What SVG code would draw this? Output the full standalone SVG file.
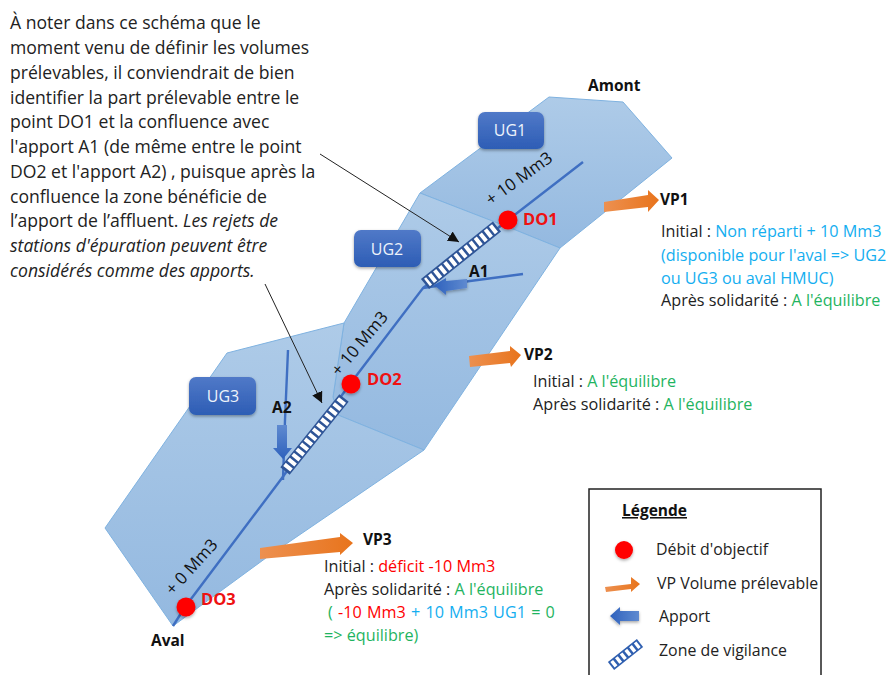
<svg xmlns="http://www.w3.org/2000/svg" width="890" height="675" viewBox="0 0 890 675">
<style>
text{font-family:"Open Sans","Noto Sans","Liberation Sans",sans-serif;font-size:16.200px;fill:#222}
.b{font-weight:700;fill:#111;font-size:15.500px}
.red{fill:#ff0000}.g{fill:#1fb45f}.c{fill:#14aef0}
.big{font-size:17.600px}
.do{font-weight:700;fill:#ee1111;font-size:16.500px}
.ug{font-size:16px;fill:#eef3fb;text-anchor:middle}
.rot{font-size:16.800px;fill:#111}
.leg{font-size:15.900px}
.zone{fill:url(#za);stroke:#7fb2e0;stroke-width:1}
.riv{fill:none;stroke:#3f6fc2;stroke-width:2.400}
.call{stroke:#222;stroke-width:1;fill:none;marker-end:url(#ah)}
</style>
<defs>
<linearGradient id="za" x1="0" y1="0" x2="0" y2="1"><stop offset="0" stop-color="#aecbe8"/><stop offset="1" stop-color="#94b9e0"/></linearGradient>
<linearGradient id="ub" x1="0" y1="0" x2="0" y2="1"><stop offset="0" stop-color="#5079c8"/><stop offset="1" stop-color="#2d5db5"/></linearGradient>
<linearGradient id="or" x1="0" y1="0" x2="1" y2="0"><stop offset="0" stop-color="#ed9050"/><stop offset="1" stop-color="#e8741c"/></linearGradient>
<linearGradient id="bl" x1="0" y1="0" x2="1" y2="0"><stop offset="0" stop-color="#2f62bd"/><stop offset="1" stop-color="#5f8ad0"/></linearGradient>
<linearGradient id="bv" x1="0" y1="0" x2="0" y2="1"><stop offset="0" stop-color="#5f8ad0"/><stop offset="1" stop-color="#2f62bd"/></linearGradient>
<filter id="sh" x="-20%" y="-20%" width="140%" height="150%"><feDropShadow dx="0" dy="1.500" stdDeviation="1.500" flood-color="#000" flood-opacity=".35"/></filter>
<marker id="ah" markerUnits="userSpaceOnUse" markerWidth="12" markerHeight="12" refX="11" refY="5.500" orient="auto"><path d="M0,0L11,5.500L0,11Z" fill="#111"/></marker>
</defs>

<g id="zones">
<polygon id="zone-ug1" class="zone" points="549,97 623,102 672,158 560,248 513,229 420,193"/>
<polygon id="zone-ug2" class="zone" points="420,193 513,229 560,248 424,450 338,415 333,397 344,323"/>
<polygon id="zone-ug3" class="zone" points="227,353 344,323 333,397 338,415 424,450 270,555 173,626 105,528"/>
</g>

<g id="connectors">
<polyline class="riv" points="583,162 508,220 423,288 350,384 282,478 185,607 173,626"/>
<polyline class="riv" points="523,274 470,281 423,288"/>
<polyline class="riv" points="288,350 285,420 283,480"/>
<line class="call" x1="320" y1="154" x2="459" y2="242"/>
<line class="call" x1="265" y1="284" x2="322" y2="403"/>
</g>

<g id="zone-vigilance-1"><line x1="497" y1="226.500" x2="425" y2="284" stroke="#2f5597" stroke-width="13"/><line x1="495" y1="228" x2="427" y2="282.500" stroke="#fff" stroke-width="9.500" stroke-dasharray="4 2.500"/></g>
<g id="zone-vigilance-2"><line x1="344" y1="398" x2="285" y2="471" stroke="#2f5597" stroke-width="12"/><line x1="342.500" y1="400" x2="286.500" y2="469" stroke="#fff" stroke-width="9" stroke-dasharray="4 2.500"/></g>

<g id="ug1"><rect x="478" y="112" width="66" height="37" rx="7" fill="url(#ub)" filter="url(#sh)"/><text class="ug" x="510" y="136">UG1</text></g>
<g id="ug2"><rect x="354" y="230" width="67" height="37" rx="7" fill="url(#ub)" filter="url(#sh)"/><text class="ug" x="387" y="255">UG2</text></g>
<g id="ug3"><rect x="189" y="377" width="67" height="38" rx="7" fill="url(#ub)" filter="url(#sh)"/><text class="ug" x="223" y="402">UG3</text></g>

<g id="do1"><circle cx="508" cy="220" r="9.500" fill="#ff0000" filter="url(#sh)"/><text class="do" x="523" y="225">DO1</text></g>
<g id="do2"><circle cx="351" cy="384" r="9.500" fill="#ff0000" filter="url(#sh)"/><text class="do" x="367" y="385">DO2</text></g>
<g id="do3"><circle cx="186" cy="607" r="9.500" fill="#ff0000" filter="url(#sh)"/><text class="do" x="201" y="605">DO3</text></g>

<g id="a1"><polygon points="434,285 446,278 446,281 467,279 467,288 446,291 446,295" fill="url(#bl)" filter="url(#sh)"/><text class="b" x="469" y="277">A1</text></g>
<g id="a2"><polygon points="277,425 287,425 287,448 292,448 283,459 273,448 277,448" fill="url(#bv)"/><text class="b" x="272" y="413">A2</text></g>

<text class="rot" transform="translate(491,206) rotate(-36)">+ 10 Mm3</text>
<text class="rot" transform="translate(339,377) rotate(-50)">+ 10 Mm3</text>
<text class="rot" transform="translate(173,596) rotate(-48)">+ 0 Mm3</text>
<text class="b" x="588" y="91">Amont</text>
<text class="b" x="151" y="646">Aval</text>

<g id="vp1"><polygon points="604,202 648,195 648,190 659,200 648,212 648,207 604,212" fill="url(#or)"/><text class="b" x="660" y="205">VP1</text></g>
<g id="vp2"><polygon points="469,356 510,351 510,346 521,355 511,367 510,363 470,367" fill="url(#or)"/><text class="b" x="524" y="360">VP2</text></g>
<g id="vp3"><polygon points="260,548 340,537 340,533 353,543 340,555 340,552 260,559" fill="url(#or)"/><text class="b" x="363" y="545">VP3</text></g>

<g id="callout">
<text class="big" x="10" y="29">À noter dans ce schéma que le</text>
<text class="big" x="10" y="54">moment venu de définir les volumes</text>
<text class="big" x="10" y="79">prélevables, il conviendrait de bien</text>
<text class="big" x="10" y="104">identifier la part prélevable entre le</text>
<text class="big" x="10" y="128">point DO1 et la confluence avec</text>
<text class="big" x="10" y="153">l'apport A1 (de même entre le point</text>
<text class="big" x="10" y="178">DO2 et l'apport A2) , puisque après la</text>
<text class="big" x="10" y="203">confluence la zone bénéficie de</text>
<text class="big" x="10" y="227">l’apport de l’affluent. <tspan font-style="italic">Les rejets de</tspan></text>
<text class="big" x="10" y="252" font-style="italic">stations d'épuration peuvent être</text>
<text class="big" x="10" y="277" font-style="italic">considérés comme des apports.</text>
</g>

<g id="vp1-text">
<text x="661" y="237">Initial : <tspan class="c">Non réparti + 10 Mm3</tspan></text>
<text class="c" x="661" y="261">(disponible pour l'aval =&gt; UG2</text>
<text class="c" x="661" y="284">ou UG3 ou aval HMUC)</text>
<text x="661" y="306">Après solidarité : <tspan class="g">A l'équilibre</tspan></text>
</g>
<g id="vp2-text">
<text x="533" y="387">Initial : <tspan class="g">A l'équilibre</tspan></text>
<text x="533" y="410">Après solidarité : <tspan class="g">A l'équilibre</tspan></text>
</g>
<g id="vp3-text">
<text x="324" y="572">Initial : <tspan class="red">déficit -10 Mm3</tspan></text>
<text x="324" y="595">Après solidarité : <tspan class="g">A l'équilibre</tspan></text>
<text class="g" x="328" y="618" word-spacing="1">( <tspan class="red">-10 Mm3</tspan> <tspan class="c">+ 10 Mm3 UG1</tspan> = 0</text>
<text class="g" x="324" y="641">=&gt; équilibre)</text>
</g>

<g id="legende">
<rect x="589" y="489" width="232" height="200" fill="#fff" stroke="#222" stroke-width="1.500"/>
<text class="b" x="622" y="516" text-decoration="underline">Légende</text>
<circle cx="624" cy="550" r="9" fill="#ff0000" filter="url(#sh)"/>
<text class="leg" x="656" y="555">Débit d'objectif</text>
<polygon points="605,587 631,584 631,577 640,584 631,592 631,589 606,592" fill="url(#or)"/>
<text class="leg" x="657" y="589">VP Volume prélevable</text>
<polygon points="610,616 620,607 620,611 639,611 639,621 620,621 620,625" fill="url(#bl)" filter="url(#sh)"/>
<text class="leg" x="659" y="622">Apport</text>
<line x1="611" y1="666" x2="640" y2="643" stroke="#2f5fb0" stroke-width="10"/>
<line x1="612.500" y1="664.800" x2="638.500" y2="644.200" stroke="#fff" stroke-width="7" stroke-dasharray="3.500 2.500"/>
<text class="leg" x="659" y="656">Zone de vigilance</text>
</g>
</svg>
